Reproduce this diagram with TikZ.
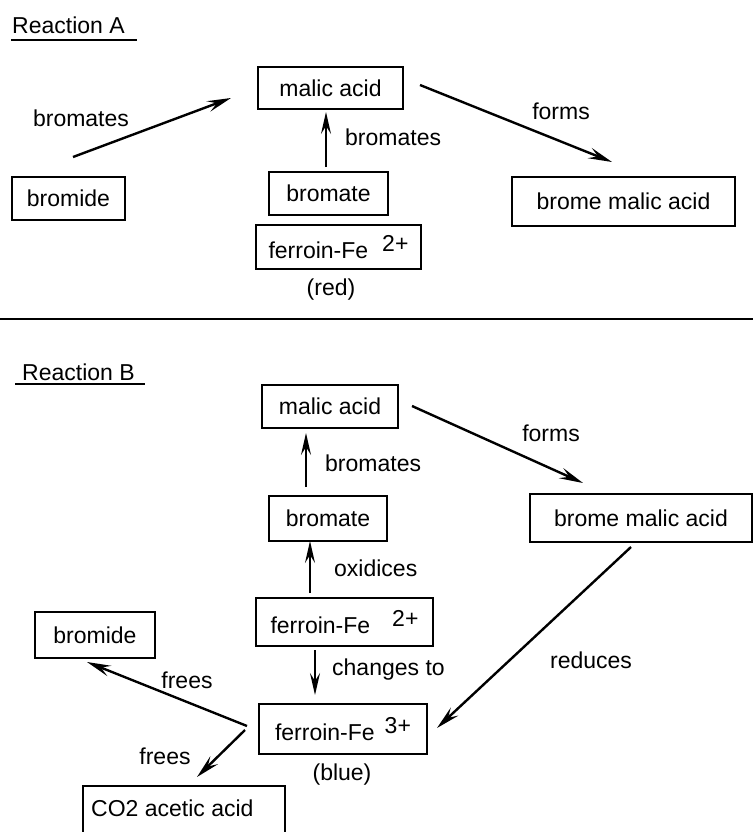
\documentclass[tikz,border=0pt]{standalone}
\usepackage{fontspec}
\setmainfont{Liberation Sans}
\usetikzlibrary{arrows.meta}
\begin{document}
\begin{tikzpicture}[x=1pt,y=-1pt,
  box/.style={draw, line width=1.6pt, inner sep=0pt, font=\fontsize{23}{26}\selectfont},
  lbl/.style={inner sep=0pt, font=\fontsize{23}{26}\selectfont},
  conn/.style={line width=2.4pt, -{Stealth[length=24pt,width=11pt,inset=9pt]}},
  vconn/.style={line width=1.8pt, -{Stealth[length=22pt,width=10pt,inset=8pt]}},
  rule/.style={line width=1.8pt}]
\useasboundingbox (0,0) rectangle (753,832);
\clip (0,0) rectangle (753,832);
\fill[white] (0,0) rectangle (753,832);
% ---------- Reaction A ----------
\node[lbl, anchor=base west] (titleA) at (12,34) {Reaction A};
\draw[line width=1.4pt] (11,40) -- (137,40);
\node[box, minimum width=145pt, minimum height=42pt] (malA) at (330.5,88) {malic acid};
\node[box, minimum width=119pt, minimum height=43pt] (bromateA) at (328.5,193.5) {bromate};
\node[box, minimum width=165pt, minimum height=44pt] (ferA) at (338.5,247) {ferroin-Fe\hspace{14pt}\raisebox{7pt}{2+}};
\node[box, minimum width=113pt, minimum height=43pt] (bromideA) at (68.5,198.5) {bromide};
\node[box, minimum width=223pt, minimum height=49pt] (bromeA) at (623.5,201.5) {brome malic acid};
\node[lbl] (redA) at (331,290) {(red)};
\coordinate (a1s) at (73,157); \coordinate (a1e) at (231,98);
\coordinate (a2s) at (326,167); \coordinate (a2e) at (326,112);
\coordinate (a3s) at (420,85); \coordinate (a3e) at (612,162);
\draw[conn] (a1s) -- (a1e);
\draw[vconn] (a2s) -- (a2e);
\draw[conn] (a3s) -- (a3e);
\node[lbl] (lA1) at (81,118) {bromates};
\node[lbl, anchor=west] (lA2) at (345,137) {bromates};
\node[lbl] (lA3) at (561,111) {forms};
% separator
\draw[rule] (0,319) -- (753,319);
% ---------- Reaction B ----------
\node[lbl, anchor=base west] (titleB) at (22,380) {Reaction B};
\draw[line width=1.4pt] (15,384) -- (145,384);
\node[box, minimum width=136pt, minimum height=43pt] (malB) at (330,406.5) {malic acid};
\node[box, minimum width=118pt, minimum height=45pt] (bromateB) at (328,518.5) {bromate};
\node[box, minimum width=177pt, minimum height=48pt] (fer2B) at (344.5,622) {ferroin-Fe\hspace{22pt}\raisebox{7pt}{2+}};
\node[box, minimum width=120pt, minimum height=46pt] (bromideB) at (95,635) {bromide};
\node[box, minimum width=168pt, minimum height=50pt] (fer3B) at (343,729) {ferroin-Fe\hspace{10pt}\raisebox{7pt}{3+}};
\node[box, minimum width=222pt, minimum height=48pt] (bromeB) at (641,518) {brome malic acid};
\node[box, minimum width=202pt, minimum height=52pt, anchor=north west] (co2) at (82,785) {};
\node[lbl, anchor=west] (co2t) at (91,808) {CO2 acetic acid};
\node[lbl] (blueB) at (342,775) {(blue)};
\coordinate (b1s) at (412,406); \coordinate (b1e) at (583,483);
\coordinate (b2s) at (306,487); \coordinate (b2e) at (306,433);
\coordinate (b3s) at (310,593); \coordinate (b3e) at (310,541);
\coordinate (b4s) at (315,650); \coordinate (b4e) at (315,695);
\coordinate (b5s) at (631,547); \coordinate (b5e) at (437,728);
\coordinate (b6s) at (247,726); \coordinate (b6e) at (87,662);
\coordinate (b7s) at (245,730); \coordinate (b7e) at (197,777);
\draw[conn] (b1s) -- (b1e);
\draw[vconn] (b2s) -- (b2e);
\draw[vconn] (b3s) -- (b3e);
\draw[vconn] (b4s) -- (b4e);
\draw[conn] (b5s) -- (b5e);
\draw[conn] (b6s) -- (b6e);
\draw[conn] (b7s) -- (b7e);
\node[lbl] (lB1) at (551,433) {forms};
\node[lbl, anchor=west] (lB2) at (325,463) {bromates};
\node[lbl, anchor=west] (lB3) at (334,568) {oxidices};
\node[lbl, anchor=west] (lB4) at (332,670) {changes to};
\node[lbl] (lB5) at (591,660) {reduces};
\node[lbl] (lB6) at (187,680) {frees};
\node[lbl] (lB7) at (165,756) {frees};
\end{tikzpicture}
\end{document}
